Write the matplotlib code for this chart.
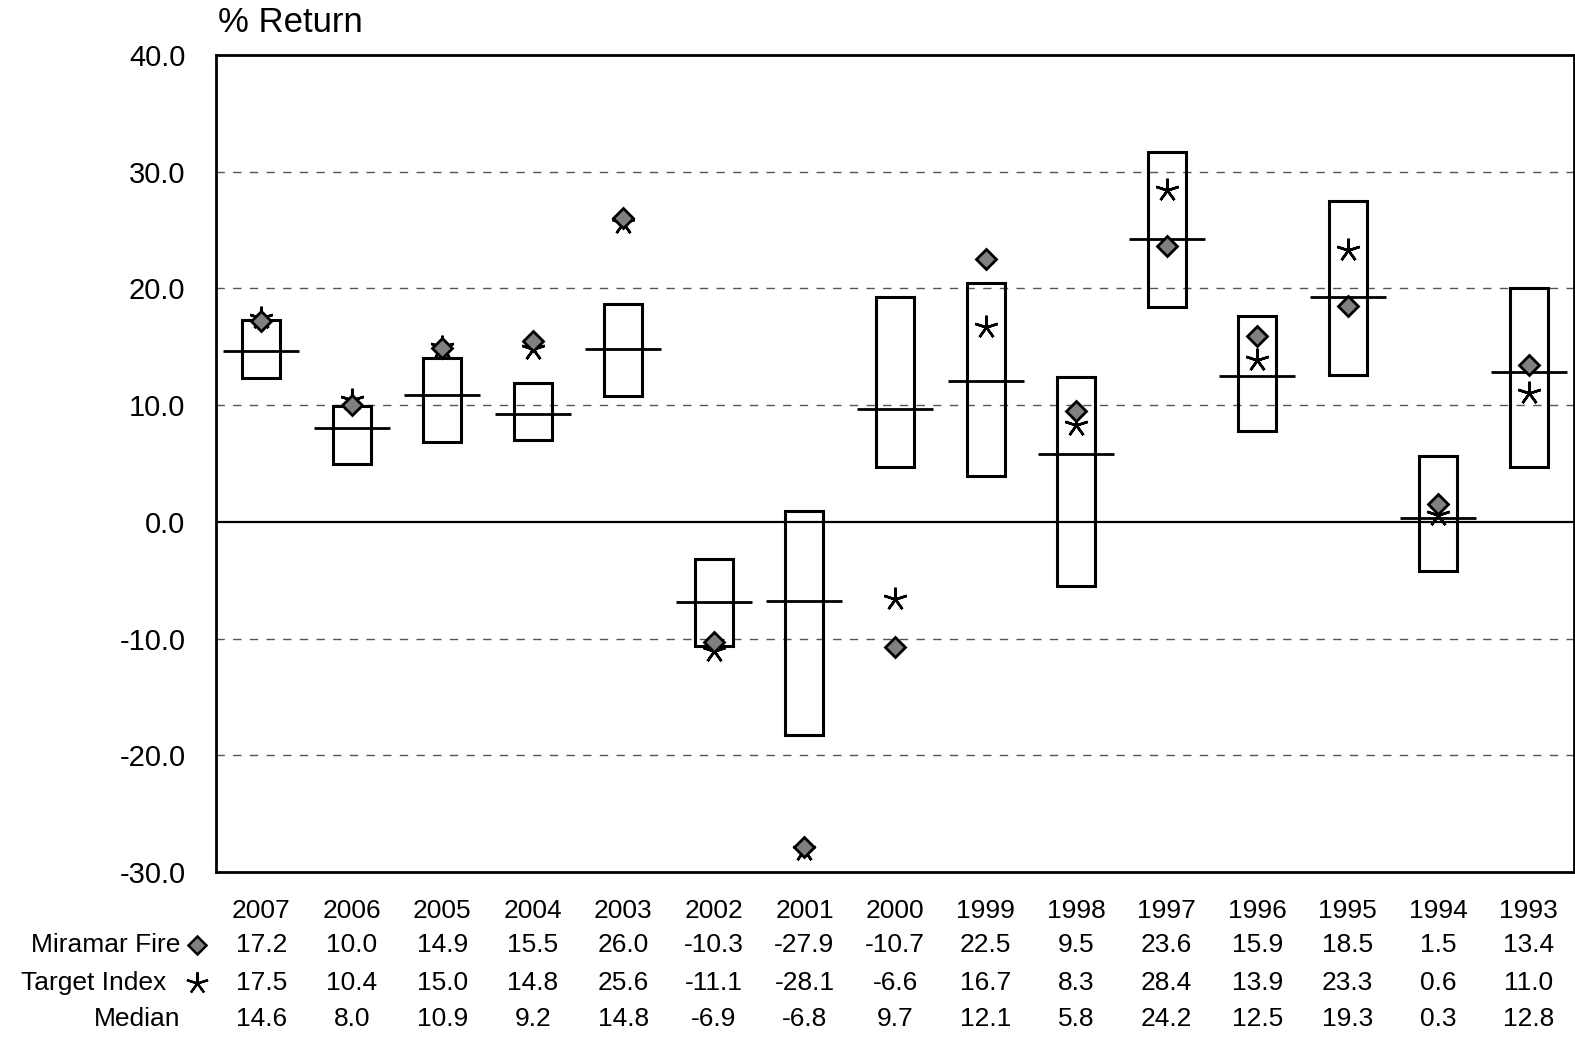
import matplotlib
matplotlib.use("Agg")
import matplotlib.pyplot as plt
from matplotlib.patches import Rectangle
from matplotlib.lines import Line2D
import matplotlib.transforms as mtransforms

plt.rcParams['font.family'] = ['Liberation Sans', 'DejaVu Sans']

years = ["2007", "2006", "2005", "2004", "2003", "2002", "2001", "2000",
         "1999", "1998", "1997", "1996", "1995", "1994", "1993"]
miramar = [17.2, 10.0, 14.9, 15.5, 26.0, -10.3, -27.9, -10.7,
           22.5, 9.5, 23.6, 15.9, 18.5, 1.5, 13.4]
target = [17.5, 10.4, 15.0, 14.8, 25.6, -11.1, -28.1, -6.6,
          16.7, 8.3, 28.4, 13.9, 23.3, 0.6, 11.0]
median = [14.6, 8.0, 10.9, 9.2, 14.8, -6.9, -6.8, 9.7,
          12.1, 5.8, 24.2, 12.5, 19.3, 0.3, 12.8]
# peer-universe range (low / high) for each year
range_low = [12.3, 5.0, 6.8, 7.0, 10.8, -10.6, -18.3, 4.7,
             3.9, -5.5, 18.4, 7.8, 12.6, -4.2, 4.7]
range_high = [17.3, 9.9, 14.0, 11.9, 18.7, -3.2, 0.9, 19.3,
              20.5, 12.4, 31.7, 17.6, 27.5, 5.6, 20.0]
yticks = [40.0, 30.0, 20.0, 10.0, 0.0, -10.0, -20.0, -30.0]

W, H = 1575, 1039
fig = plt.figure(figsize=(W / 100, H / 100), dpi=100)
ax = fig.add_axes([216 / W, 1 - 872 / H, (1574 - 216) / W, (872 - 55) / H])

n = len(years)
xs = list(range(n))
ax.set_xlim(-0.5, n - 0.5)
ax.set_ylim(-30, 40)

# reference grid
for v in [30, 20, 10, -10, -20]:
    ax.axhline(v, color='#555555', lw=1.0, ls=(0, (6, 6)), zorder=1)
ax.axhline(0, color='black', lw=1.6, zorder=2)

box_w = 0.42
med_w = 0.84
for i in xs:
    lo, hi = range_low[i], range_high[i]
    ax.add_patch(Rectangle((i - box_w / 2, lo), box_w, hi - lo,
                           facecolor='none', edgecolor='black', lw=2.2, zorder=3))
    ax.plot([i - med_w / 2, i + med_w / 2], [median[i], median[i]],
            color='black', lw=2.0, zorder=4, solid_capstyle='butt')

ax.plot(xs, target, ls='none', marker=(5, 2, 0), ms=17, mew=1.8,
        color='black', zorder=5)
ax.plot(xs, miramar, ls='none', marker='D', ms=10.5, mfc='#808080',
        mec='black', mew=2.0, zorder=6)

for s in ax.spines.values():
    s.set_linewidth(2.0)
    s.set_color('black')

ax.set_xticks([])
ax.set_yticks(yticks)
ax.set_yticklabels([f"{v:.1f}" for v in yticks])
ax.tick_params(axis='y', length=0, pad=22, labelsize=21)

fig.text(218 / W, 1 - 23 / H, "% Return", fontsize=25, ha='left', va='center')

# data table beneath the plot
trans = mtransforms.blended_transform_factory(ax.transData, fig.transFigure)
rows_y = [911, 945, 983, 1019]
fs = 19
for i in xs:
    ax.text(i, 1 - rows_y[0] / H, years[i], transform=trans, ha='center',
            va='center', fontsize=fs, clip_on=False)
    ax.text(i, 1 - rows_y[1] / H, f"{miramar[i]:.1f}", transform=trans,
            ha='center', va='center', fontsize=fs, clip_on=False)
    ax.text(i, 1 - rows_y[2] / H, f"{target[i]:.1f}", transform=trans,
            ha='center', va='center', fontsize=fs, clip_on=False)
    ax.text(i, 1 - rows_y[3] / H, f"{median[i]:.1f}", transform=trans,
            ha='center', va='center', fontsize=fs, clip_on=False)

fig.text(180 / W, 1 - rows_y[1] / H, "Miramar Fire", ha='right', va='center',
         fontsize=fs)
fig.text(166 / W, 1 - rows_y[2] / H, "Target Index", ha='right', va='center',
         fontsize=fs)
fig.text(180 / W, 1 - rows_y[3] / H, "Median", ha='right', va='center',
         fontsize=fs)
fig.add_artist(Line2D([197 / W], [1 - rows_y[1] / H], transform=fig.transFigure,
                      ls='none', marker='D', ms=9, mfc='#808080', mec='black',
                      mew=1.8))
fig.add_artist(Line2D([197 / W], [1 - rows_y[2] / H], transform=fig.transFigure,
                      ls='none', marker=(5, 2, 0), ms=16, mew=1.6, color='black'))

fig.savefig("out.png", dpi=100, facecolor='white')
